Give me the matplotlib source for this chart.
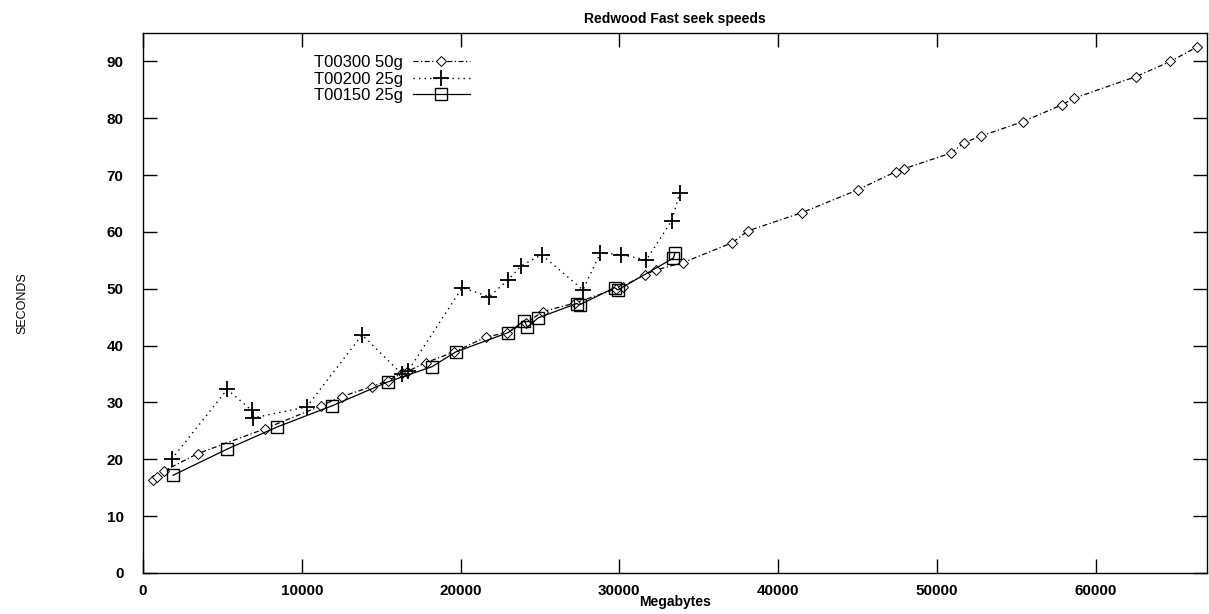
import matplotlib.pyplot as plt

# === DONNEES ===
x_t300 = [600, 900, 1350, 3450, 7700, 11200, 12500, 14400, 15400, 16300, 16600,
          17800, 19600, 21600, 22900, 24100, 25200, 27200, 29800, 30200, 31600,
          32300, 34000, 37100, 38100, 41500, 45000, 47400, 47900, 50900, 51700,
          52800, 55400, 57900, 58600, 62500, 64700, 66400]
y_t300 = [16.4, 16.9, 18.0, 21.0, 25.4, 29.4, 31.0, 32.8, 33.8, 35.1, 35.4,
          37.0, 38.9, 41.5, 42.3, 44.0, 46.0, 47.5, 50.0, 50.4, 52.5,
          53.3, 54.6, 58.1, 60.2, 63.4, 67.4, 70.6, 71.1, 73.9, 75.7,
          76.9, 79.4, 82.4, 83.5, 87.3, 90.0, 92.6]

x_t200 = [1800, 5300, 6850, 6950, 10300, 13800, 16300, 16700, 20100, 21800,
          23000, 23800, 25100, 27700, 28800, 30100, 31700, 33300, 33800]
y_t200 = [20.0, 32.3, 28.6, 27.3, 29.2, 41.9, 35.0, 35.6, 50.2, 48.6,
          51.6, 54.0, 56.0, 49.8, 56.3, 56.0, 55.1, 62.0, 66.9]

x_t150 = [1900, 5300, 8450, 11900, 15400, 18200, 19700, 23000, 24000, 24200,
          24900, 27300, 27500, 29700, 29900, 33400, 33500]
y_t150 = [17.2, 21.8, 25.7, 29.4, 33.6, 36.3, 38.9, 42.3, 44.4, 43.3,
          44.9, 47.4, 47.2, 50.2, 49.8, 55.4, 56.3]

labels = ["T00300 50g", "T00200 25g", "T00150 25g"]
xticks = [0, 10000, 20000, 30000, 40000, 50000, 60000]
yticks = [0, 10, 20, 30, 40, 50, 60, 70, 80, 90]

plt.rcParams['font.family'] = ['Liberation Sans', 'DejaVu Sans']

fig = plt.figure(figsize=(12.09, 6.14), dpi=100)
ax = fig.add_axes([143 / 1209, 41 / 614, 1064 / 1209, 540 / 614])

ax.plot(x_t300, y_t300, color='black', lw=0.9, ls=(0, (4, 2, 1, 2)),
        marker='D', ms=5.5, mfc='white', mec='black', mew=0.7, label=labels[0])
ax.plot(x_t200, y_t200, color='black', lw=1.0, ls=(0, (1, 3)),
        marker='+', ms=11, mew=1.3, label=labels[1])
ax.plot(x_t150, y_t150, color='black', lw=0.9, ls='-',
        marker='s', ms=9, mfc='none', mec='black', mew=1.0, label=labels[2])

ax.set_xlim(0, 67000)
ax.set_ylim(0, 95)
ax.set_xticks(xticks)
ax.set_yticks(yticks)
ax.tick_params(direction='in', length=10, width=1, top=True, right=True,
               labelsize=11)
for lab in ax.get_xticklabels() + ax.get_yticklabels():
    lab.set_fontweight('bold')
ax.tick_params(axis='y', pad=14)
ax.tick_params(axis='x', pad=8)

ax.spines['left'].set_linestyle((0, (1, 1)))
for s in ax.spines.values():
    s.set_linewidth(1.0)

ax.set_title("Redwood Fast seek speeds", fontsize=10, fontweight='bold', pad=7)
ax.set_xlabel("Megabytes", fontsize=10, fontweight='bold', labelpad=-2)
ax.set_ylabel("SECONDS", fontsize=9, labelpad=56)

ax.legend(loc='upper left', bbox_to_anchor=(0.148, 0.984), frameon=False,
          markerfirst=False, fontsize=12, handlelength=3.4,
          labelspacing=0.1, borderaxespad=0.4, handletextpad=0.6)

plt.savefig("out.png", dpi=100)
